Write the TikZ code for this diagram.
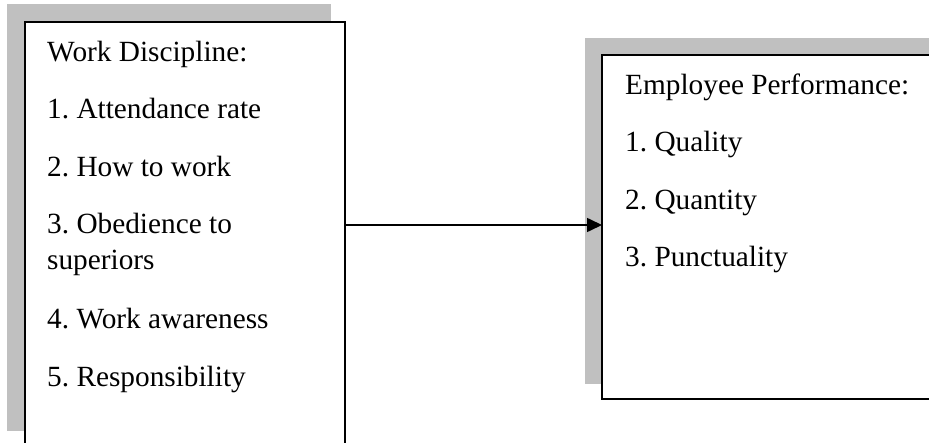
\documentclass[tikz,border=0pt]{standalone}
\usepackage{fontspec}
\setmainfont{Liberation Serif}
\usetikzlibrary{arrows.meta}
\definecolor{shade}{HTML}{C0C0C0}
\tikzset{
  shadowbox/.style={fill=shade, draw=none},
  framebox/.style={draw=black, fill=white, line width=2.8pt, inner sep=0pt, outer sep=0pt, anchor=north west},
  itemtext/.style={anchor=base west, inner sep=0pt, font=\fontsize{29.3}{36}\selectfont},
  link/.style={line width=1.6pt, -{Triangle[length=15pt,width=14pt]}}
}
\begin{document}
\frenchspacing
\begin{tikzpicture}[x=1pt,y=-1pt]
\useasboundingbox (0,0) rectangle (929,443);
\clip (0,0) rectangle (929,443);
% left block
\fill[shadowbox] (7,4) rectangle (331,431);
\node[framebox, minimum width=320pt, minimum height=450pt] (wd) at (25,22) {};
\node[itemtext] (wd0) at (47,62) {Work Discipline:};
\node[itemtext] (wd1) at (47,119) {1. Attendance rate};
\node[itemtext] (wd2) at (47,177) {2. How to work};
\node[itemtext] (wd3) at (47,234) {3. Obedience to};
\node[itemtext] (wd3b) at (47,270) {superiors};
\node[itemtext] (wd4) at (47,329) {4. Work awareness};
\node[itemtext] (wd5) at (47,387) {5. Responsibility};
% right block
\fill[shadowbox] (585,38) rectangle (945,384);
\node[framebox, minimum width=360pt, minimum height=344pt] (ep) at (602,55) {};
\node[itemtext] (ep0) at (625,95) {Employee Performance:};
\node[itemtext] (ep1) at (625,152) {1. Quality};
\node[itemtext] (ep2) at (625,210) {2. Quantity};
\node[itemtext] (ep3) at (625,267) {3. Punctuality};
% connector
\coordinate (ay) at (0,225);
\draw[link] (wd.east |- ay) -- (ep.west |- ay);
\end{tikzpicture}
\end{document}
